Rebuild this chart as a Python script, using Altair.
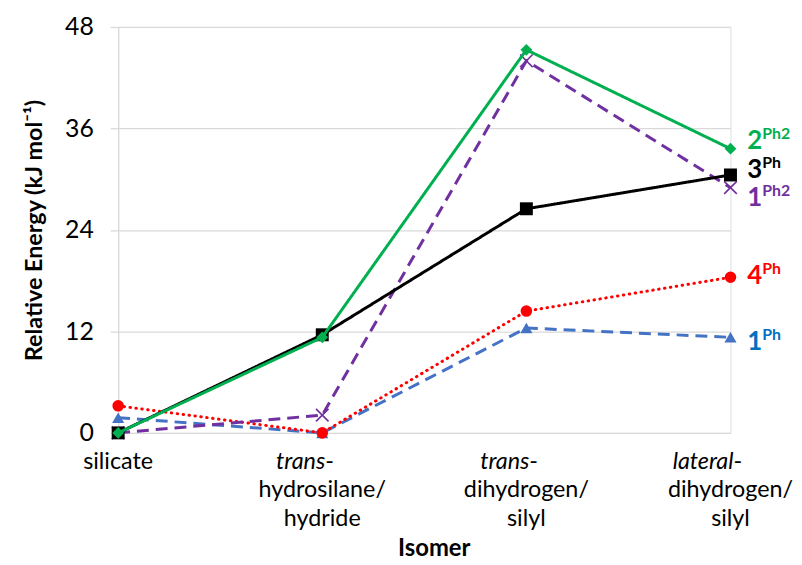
import altair as alt
import pandas as pd

categories = ["silicate", "trans-hydrosilane/hydride", "trans-dihydrogen/silyl", "lateral-dihydrogen/silyl"]

series_names = ["1Ph", "4Ph", "1Ph2", "3Ph", "2Ph2"]
values_1Ph = [1.8, 0.0, 12.4, 11.3]
values_4Ph = [3.2, 0.0, 14.4, 18.4]
values_1Ph2 = [0.0, 2.1, 44.0, 29.0]
values_3Ph = [0.0, 11.6, 26.5, 30.5]
values_2Ph2 = [0.0, 11.3, 45.3, 33.6]

label_main = ["1", "4", "1", "3", "2"]
label_sup = ["Ph", "Ph", "Ph2", "Ph", "Ph2"]

xlab_italic = ["", "trans", "trans", "lateral"]
xlab_plain1 = ["silicate", "", "", ""]
xlab_line2 = ["", "hydrosilane/", "dihydrogen/", "dihydrogen/"]
xlab_line3 = ["", "hydride", "silyl", "silyl"]

y_ticks = [0, 12, 24, 36, 48]
y_title = "Relative Energy (kJ mol\u207b\u00b9)"
x_title = "Isomer"

all_values = [values_1Ph, values_4Ph, values_1Ph2, values_3Ph, values_2Ph2]

styles = {
    "1Ph": dict(color="#4472C4", dash=[12, 7], shape="triangle-up", size=150, filled=True, lcolor="#0070C0", dy=5, cap="butt"),
    "4Ph": dict(color="#FF0000", dash=[0.5, 5.5], shape="circle", size=135, filled=True, lcolor="#FF0000", dy=-1, cap="round"),
    "1Ph2": dict(color="#7030A0", dash=[12, 7], shape="M-1,-1L1,1M1,-1L-1,1", size=160, filled=False, lcolor="#7030A0", dy=10, cap="butt"),
    "3Ph": dict(color="#000000", dash=[1, 0], shape="square", size=170, filled=True, lcolor="#000000", dy=-5, cap="butt"),
    "2Ph2": dict(color="#00B050", dash=[1, 0], shape="diamond", size=140, filled=True, lcolor="#00B050", dy=-8, cap="butt"),
}

rows = []
for name, vals in zip(series_names, all_values):
    for c, v in zip(categories, vals):
        rows.append({"series": name, "category": c, "value": v})
df = pd.DataFrame(rows)

W, H = 617, 409
FONT = "Lato"

x_enc = alt.X("category:N", sort=categories,
              scale=alt.Scale(type="point", padding=0, domain=categories),
              axis=alt.Axis(labels=False, ticks=False, domain=False, title=None, grid=False))
y_enc = alt.Y("value:Q", scale=alt.Scale(domain=[0, 48], nice=False, zero=True),
              axis=alt.Axis(values=y_ticks, title=y_title, titleFont=FONT, titleFontSize=23.5,
                            titleFontWeight="bold", titleColor="#000000", titlePadding=18,
                            labelFont=FONT, labelFontSize=25, labelColor="#000000", labelPadding=17,
                            tickSize=8, tickColor="#D9D9D9", domainColor="#D9D9D9",
                            gridColor="#D9D9D9", gridWidth=1.3, domainWidth=1.3, tickWidth=1.3))

layers = []
for i, name in enumerate(series_names):
    st = styles[name]
    sub = df[df["series"] == name]
    base = alt.Chart(sub)
    line = base.mark_line(color=st["color"], strokeWidth=3, strokeDash=st["dash"],
                          strokeCap=st["cap"]).encode(x=x_enc, y=y_enc)
    if st["filled"]:
        pts = base.mark_point(shape=st["shape"], size=st["size"], filled=True, opacity=1,
                              color=st["color"]).encode(x=x_enc, y=y_enc)
    else:
        pts = base.mark_point(shape=st["shape"], size=st["size"], filled=False, opacity=1,
                              color=st["color"], strokeWidth=1.6).encode(x=x_enc, y=y_enc)
    last = sub[sub["category"] == categories[-1]].copy()
    last["main"] = label_main[i]
    last["sup"] = label_sup[i]
    lab_main = alt.Chart(last).mark_text(align="left", baseline="middle", dx=17, dy=st["dy"],
                                         font=FONT, fontSize=26, fontWeight="bold",
                                         color=st["lcolor"]).encode(x=x_enc, y=y_enc, text="main:N")
    lab_sup = alt.Chart(last).mark_text(align="left", baseline="middle", dx=32, dy=st["dy"] - 7,
                                        font=FONT, fontSize=16, fontWeight="bold",
                                        color=st["lcolor"]).encode(x=x_enc, y=y_enc, text="sup:N")
    layers += [line, pts, lab_main, lab_sup]

xl = pd.DataFrame({"category": categories, "it": xlab_italic, "p1": xlab_plain1,
                   "l2": xlab_line2, "l3": xlab_line3})
xbase = alt.Chart(xl)
x_txt = alt.X("category:N", sort=categories, scale=alt.Scale(type="point", padding=0, domain=categories), axis=None)
FS = 23.5
t_plain1 = xbase.mark_text(align="center", baseline="middle", dy=29, font=FONT, fontSize=FS,
                           color="#000000").encode(x=x_txt, y=alt.value(H), text="p1:N")
t_it = xbase.mark_text(align="right", baseline="middle", dy=29, dx=3, font=FONT, fontSize=FS,
                       fontStyle="italic", color="#000000").encode(x=x_txt, y=alt.value(H), text="it:N")
t_hy = xbase.transform_filter("datum.it != ''").mark_text(align="left", baseline="middle", dy=29, dx=3,
                                                          font=FONT, fontSize=FS, color="#000000").encode(
    x=x_txt, y=alt.value(H), text=alt.value("-"))
t_l2 = xbase.mark_text(align="center", baseline="middle", dy=58, font=FONT, fontSize=FS,
                       color="#000000").encode(x=x_txt, y=alt.value(H), text="l2:N")
t_l3 = xbase.mark_text(align="center", baseline="middle", dy=87, font=FONT, fontSize=FS,
                       color="#000000").encode(x=x_txt, y=alt.value(H), text="l3:N")
t_title = alt.Chart(pd.DataFrame({"t": [x_title]})).mark_text(
    align="center", baseline="middle", dy=117, font=FONT, fontSize=24, fontWeight="bold",
    color="#000000").encode(x=alt.value(W / 2 + 10), y=alt.value(H), text="t:N")

chart = alt.layer(*layers, t_plain1, t_it, t_hy, t_l2, t_l3, t_title).properties(
    width=W, height=H, padding={"left": 14, "top": 5, "right": 0, "bottom": 0}
).configure_view(stroke=None).configure(background="white")

chart.save("out.html", embed_options={"renderer": "svg", "actions": False})
